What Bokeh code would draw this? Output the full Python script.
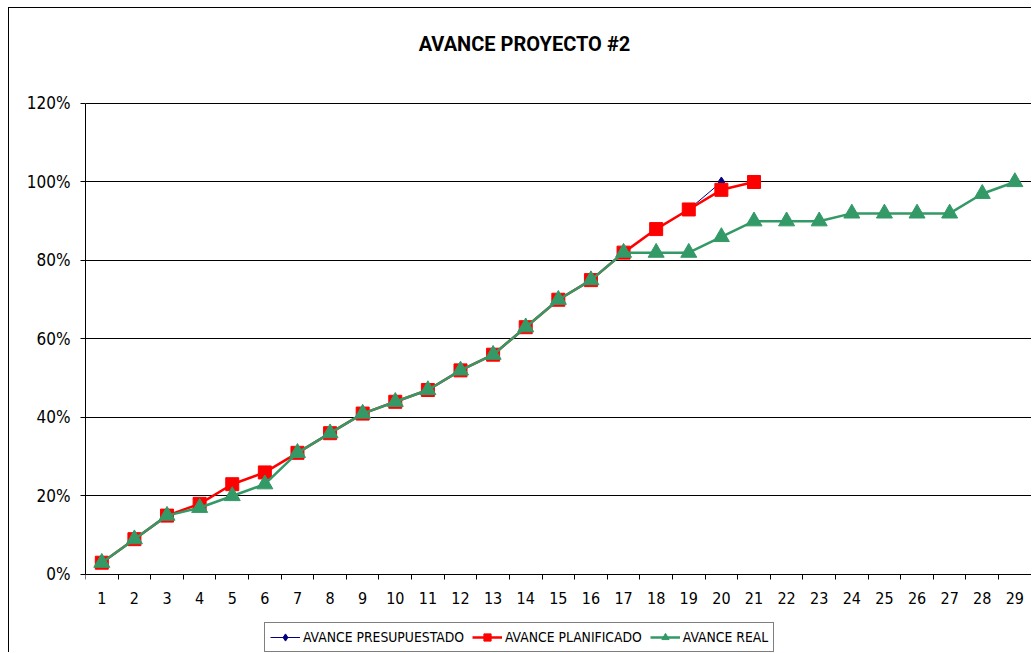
from bokeh.plotting import figure
from bokeh.models import (Range1d, FixedTicker, NumeralTickFormatter, Legend, LegendItem,
                          ColumnDataSource, Label)
from bokeh.embed import file_html
from bokeh.resources import INLINE

# ---- data ----
periods = list(range(1, 30))
presupuestado = [0.03, 0.09, 0.15, 0.18, 0.23, 0.26, 0.31, 0.36, 0.41, 0.44, 0.47, 0.52, 0.56,
                 0.63, 0.70, 0.75, 0.82, 0.88, 0.93, 1.00]
planificado = [0.03, 0.09, 0.15, 0.18, 0.23, 0.26, 0.31, 0.36, 0.41, 0.44, 0.47, 0.52, 0.56,
               0.63, 0.70, 0.75, 0.82, 0.88, 0.93, 0.98, 1.00]
real = [0.03, 0.09, 0.15, 0.17, 0.20, 0.23, 0.31, 0.36, 0.41, 0.44, 0.47, 0.52, 0.56, 0.63,
        0.70, 0.75, 0.82, 0.82, 0.82, 0.86, 0.90, 0.90, 0.90, 0.92, 0.92, 0.92, 0.92, 0.97, 1.00]
y_ticks = [0, 0.2, 0.4, 0.6, 0.8, 1.0, 1.2]
title_text = "AVANCE PROYECTO #2"
series_names = ["AVANCE PRESUPUESTADO", "AVANCE PLANIFICADO", "AVANCE REAL"]

FONT = "'DejaVu Sans Condensed', 'DejaVu Sans'"
TITLE_FONT = "Roboto"

p = figure(width=1023, height=645, output_backend="svg", toolbar_location=None,
           x_range=Range1d(0.5, 29.51), y_range=Range1d(-0.2013, 1.4420),
           min_border_left=76, min_border_right=1, min_border_top=0, min_border_bottom=0)
p.styles = {"margin-left": "8px", "margin-top": "7px",
            "border-left": "1px solid black", "border-top": "1px solid black"}
p.outline_line_color = None
p.background_fill_color = "white"
p.border_fill_color = "white"

# axes
xa = p.xaxis[0]
xa.fixed_location = 0
xa.bounds = (0.5, 29.5)
xa.ticker = FixedTicker(ticks=periods, minor_ticks=[i + 0.5 for i in range(0, 30)])
xa.major_tick_out = 0
xa.major_tick_in = 0
xa.major_tick_line_color = None
xa.minor_tick_out = 5
xa.minor_tick_in = 0
xa.minor_tick_line_color = "black"
xa.axis_line_color = "black"
xa.major_label_standoff = 13
xa.major_label_text_font = FONT
xa.major_label_text_font_size = "16px"
xa.major_label_text_color = "black"

ya = p.yaxis[0]
ya.bounds = (0, 1.2)
ya.ticker = FixedTicker(ticks=y_ticks)
ya.formatter = NumeralTickFormatter(format="0%")
ya.major_tick_out = 5
ya.major_tick_in = 0
ya.minor_tick_line_color = None
ya.axis_line_color = "black"
ya.major_tick_line_color = "black"
ya.major_label_standoff = 10
ya.major_label_text_font = FONT
ya.major_label_text_font_size = "17px"
ya.major_label_text_color = "black"

p.xgrid.grid_line_color = None
p.ygrid.ticker = FixedTicker(ticks=y_ticks)
p.ygrid.grid_line_color = "black"
p.ygrid.grid_line_width = 1

# series
src_b = ColumnDataSource(dict(x=periods[:len(presupuestado)], y=presupuestado))
src_r = ColumnDataSource(dict(x=periods[:len(planificado)], y=planificado))
src_g = ColumnDataSource(dict(x=periods[:len(real)], y=real))

navy = "#000080"
red = "#FF0000"
green = "#339966"

lb = p.line("x", "y", source=src_b, line_color=navy, line_width=1)
mb = p.scatter("x", "y", source=src_b, marker="diamond", size=10, fill_color=navy, line_color=navy)
lr = p.line("x", "y", source=src_r, line_color=red, line_width=2.5)
mr = p.scatter("x", "y", source=src_r, marker="square", size=13, fill_color=red, line_color=red)
lg = p.line("x", "y", source=src_g, line_color=green, line_width=2.5)
mg = p.scatter("x", "y", source=src_g, marker="triangle", size=16, fill_color=green, line_color=green)

legend = Legend(items=[LegendItem(label=series_names[0], renderers=[lb, mb]),
                       LegendItem(label=series_names[1], renderers=[lr, mr]),
                       LegendItem(label=series_names[2], renderers=[lg, mg])],
                orientation="horizontal", location=(179, 1))
legend.border_line_color = "black"
legend.border_line_width = 1
legend.background_fill_color = "white"
legend.background_fill_alpha = 1
legend.padding = 5
legend.spacing = 8
legend.margin = 0
legend.glyph_width = 30
legend.glyph_height = 18
legend.label_height = 18
legend.label_standoff = 3
legend.label_text_font = FONT
legend.label_text_font_size = "13.8px"
legend.label_text_color = "black"
p.add_layout(legend)

# title
p.add_layout(Label(x=13.96, y=1.3503, text=title_text, text_align="center", text_baseline="middle",
                   text_font=TITLE_FONT, text_font_style="bold", text_font_size="20px",
                   text_color="black"))

open("out.html", "w").write(file_html(p, INLINE))
